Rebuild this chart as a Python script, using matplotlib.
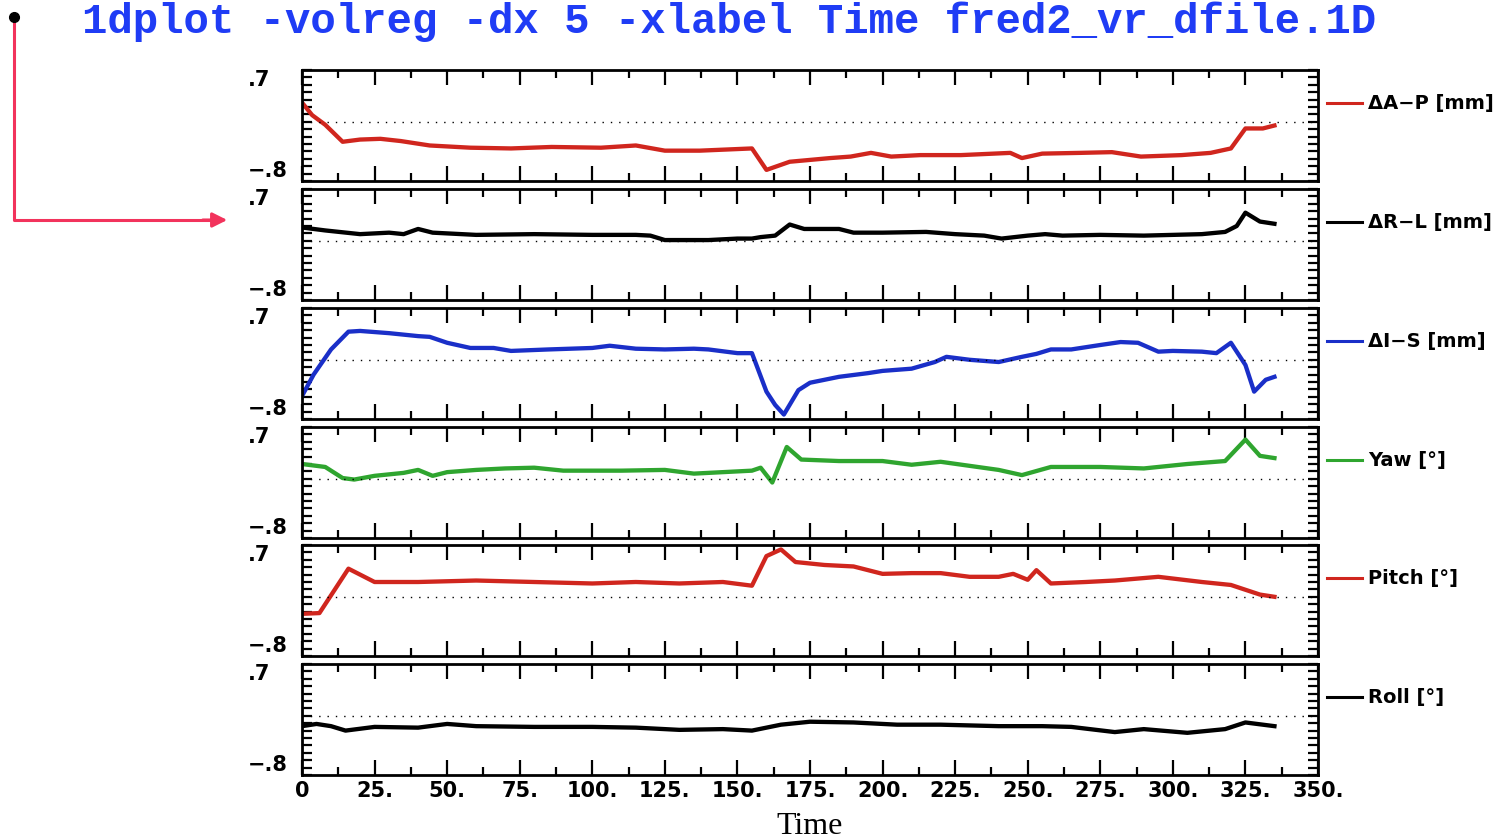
import matplotlib
matplotlib.use("Agg")
import matplotlib.pyplot as plt
from matplotlib.ticker import MultipleLocator
import numpy as np

# ---- data (time, value) ----
ap_t = [0, 3.5, 8, 14, 20, 27, 34, 44, 58, 72, 86, 103, 115, 125, 137, 155, 160, 168, 182, 189,
        196, 203, 213, 227, 244, 248, 255, 268, 279, 289, 303, 313, 320, 325, 331, 335]
ap_y = [0.26, 0.09, -0.04, -0.27, -0.24, -0.23, -0.26, -0.32, -0.35, -0.36, -0.34, -0.35, -0.32,
        -0.39, -0.39, -0.36, -0.65, -0.54, -0.49, -0.47, -0.42, -0.47, -0.45, -0.45, -0.42, -0.49,
        -0.43, -0.42, -0.41, -0.47, -0.45, -0.42, -0.36, -0.09, -0.09, -0.05]

rl_t = [0, 8, 20, 30, 35, 40, 45, 60, 80, 100, 115, 120, 125, 140, 150, 155, 158, 163, 168, 173,
        185, 190, 200, 215, 225, 235, 241, 250, 256, 262, 275, 290, 310, 318, 322, 325, 330, 335]
rl_y = [0.18, 0.14, 0.09, 0.11, 0.09, 0.16, 0.11, 0.08, 0.09, 0.08, 0.08, 0.07, 0.01, 0.01, 0.03,
        0.03, 0.05, 0.07, 0.22, 0.16, 0.16, 0.11, 0.11, 0.12, 0.09, 0.07, 0.03, 0.07, 0.09, 0.07,
        0.08, 0.07, 0.09, 0.12, 0.20, 0.38, 0.26, 0.23]

is_t = [0, 4, 10, 16, 20, 30, 40, 44, 50, 58, 66, 72, 85, 100, 106, 115, 125, 135, 140, 150, 155,
        160, 163, 166, 171, 175, 185, 195, 200, 210, 218, 222, 230, 240, 248, 253, 258, 265, 275,
        282, 288, 295, 300, 310, 315, 320, 325, 328, 332, 335]
is_y = [-0.49, -0.20, 0.14, 0.38, 0.39, 0.36, 0.32, 0.31, 0.23, 0.16, 0.16, 0.12, 0.14, 0.16, 0.19,
        0.15, 0.14, 0.15, 0.14, 0.09, 0.09, -0.43, -0.61, -0.74, -0.41, -0.31, -0.23, -0.18, -0.15,
        -0.12, -0.03, 0.04, 0.0, -0.03, 0.04, 0.08, 0.14, 0.14, 0.20, 0.24, 0.23, 0.11, 0.12, 0.11,
        0.09, 0.23, -0.07, -0.43, -0.27, -0.23]

yaw_t = [0, 8, 14, 18, 25, 35, 40, 45, 50, 60, 70, 80, 90, 110, 125, 135, 145, 155, 158, 162, 167,
         172, 185, 200, 210, 220, 240, 248, 258, 275, 290, 305, 318, 325, 330, 335]
yaw_y = [0.20, 0.16, 0.01, -0.01, 0.04, 0.08, 0.12, 0.04, 0.09, 0.12, 0.14, 0.15, 0.11, 0.11, 0.12,
         0.07, 0.09, 0.11, 0.15, -0.05, 0.43, 0.26, 0.24, 0.24, 0.19, 0.23, 0.12, 0.05, 0.16, 0.16,
         0.14, 0.20, 0.24, 0.53, 0.31, 0.28]

pitch_t = [0, 6, 16, 25, 40, 60, 80, 100, 115, 130, 145, 155, 160, 165, 170, 180, 190, 200, 210,
           220, 230, 240, 245, 250, 253, 258, 270, 280, 295, 310, 320, 330, 335]
pitch_y = [-0.23, -0.22, 0.38, 0.20, 0.20, 0.22, 0.20, 0.18, 0.20, 0.18, 0.20, 0.15, 0.55, 0.64,
           0.47, 0.43, 0.41, 0.31, 0.32, 0.32, 0.27, 0.27, 0.31, 0.23, 0.36, 0.18, 0.20, 0.22, 0.27,
           0.20, 0.16, 0.03, 0.0]

roll_t = [0, 5, 10, 15, 25, 40, 50, 60, 80, 100, 115, 130, 145, 155, 165, 175, 190, 205, 220, 240,
          255, 265, 280, 290, 305, 318, 325, 335]
roll_y = [-0.14, -0.11, -0.14, -0.20, -0.15, -0.16, -0.11, -0.14, -0.15, -0.15, -0.16, -0.19,
          -0.18, -0.20, -0.12, -0.08, -0.09, -0.12, -0.12, -0.14, -0.14, -0.15, -0.22, -0.18,
          -0.23, -0.18, -0.09, -0.14]

labels = ["ΔA−P [mm]", "ΔR−L [mm]", "ΔI−S [mm]", "Yaw [°]", "Pitch [°]", "Roll [°]"]
colors = ["#d0261e", "black", "#1a2fc8", "#2fa52f", "#d0261e", "black"]
series = [(ap_t, ap_y), (rl_t, rl_y), (is_t, is_y), (yaw_t, yaw_y), (pitch_t, pitch_y), (roll_t, roll_y)]

x_ticks = np.arange(0, 351, 25)
x_ticklabels = ["0"] + [f"{v}." for v in x_ticks[1:]]
title = "1dplot -volreg -dx 5 -xlabel Time fred2_vr_dfile.1D"

W, H = 1506, 839
fig = plt.figure(figsize=(W / 100, H / 100), dpi=100)

left_px, right_px = 302, 1318
panel_h = 111
tops = [70, 189, 308, 427, 545, 664]

for i, (top, (t, y)) in enumerate(zip(tops, series)):
    ax = fig.add_axes([left_px / W, 1 - (top + panel_h) / H, (right_px - left_px) / W, panel_h / H])
    ax.plot(t, y, color=colors[i], lw=3.1, solid_joinstyle="round")
    ax.axhline(0, color="black", lw=1.0, ls=(0, (1, 5)))
    ax.set_xlim(0, 350)
    ax.set_ylim(-0.8, 0.7)
    for s in ax.spines.values():
        s.set_linewidth(2)
    ax.xaxis.set_major_locator(MultipleLocator(25))
    ax.xaxis.set_minor_locator(MultipleLocator(12.5))
    ax.set_yticks([-0.8, 0.7])
    ax.yaxis.set_minor_locator(MultipleLocator(0.1))
    ax.tick_params(which="both", direction="in", top=True, right=True, width=1.6)
    ax.tick_params(axis="x", which="major", length=11)
    ax.tick_params(axis="x", which="minor", length=6)
    ax.tick_params(axis="y", which="both", length=7)
    ax.set_yticklabels(["−.8", ".7"], fontsize=15, fontweight="bold")
    ylabs = ax.get_yticklabels()
    ylabs[0].set_va("bottom")
    ylabs[1].set_va("top")
    for lab in ylabs:
        lab.set_ha("left")
    ax.tick_params(axis="y", pad=39)
    if i == len(tops) - 1:
        ax.set_xticks(x_ticks)
        ax.set_xticklabels(x_ticklabels, fontsize=15, fontweight="bold")
        ax.tick_params(axis="x", pad=4)
        ax.set_xlabel("Time", fontsize=23, family="Liberation Serif", labelpad=8)
    else:
        ax.set_xticklabels([])

    # legend-style label at right
    ax.plot([1.009, 1.043], [0.70, 0.70], transform=ax.transAxes, color=colors[i], lw=2.2,
            clip_on=False)
    ax.text(1.049, 0.70, labels[i], transform=ax.transAxes, fontsize=14, fontweight="bold",
            va="center", ha="left")

# overlay for title and pointer arrow
ov = fig.add_axes([0, 0, 1, 1], facecolor="none")
ov.set_xlim(0, W)
ov.set_ylim(H, 0)
ov.axis("off")
ov.text(82, 22, title, color="#1f3cf5", fontsize=30.5, family="Liberation Mono",
        fontweight="bold", va="center", ha="left")
ov.plot([14, 14, 215], [17, 220, 220], color="#f2335c", lw=2.2)
ov.annotate("", xy=(230, 220), xytext=(200, 220),
            arrowprops=dict(arrowstyle="-|>", color="#f2335c", lw=2.2, mutation_scale=22))
ov.plot([14], [17], "o", color="black", ms=7)

fig.savefig("out.png", dpi=100)
